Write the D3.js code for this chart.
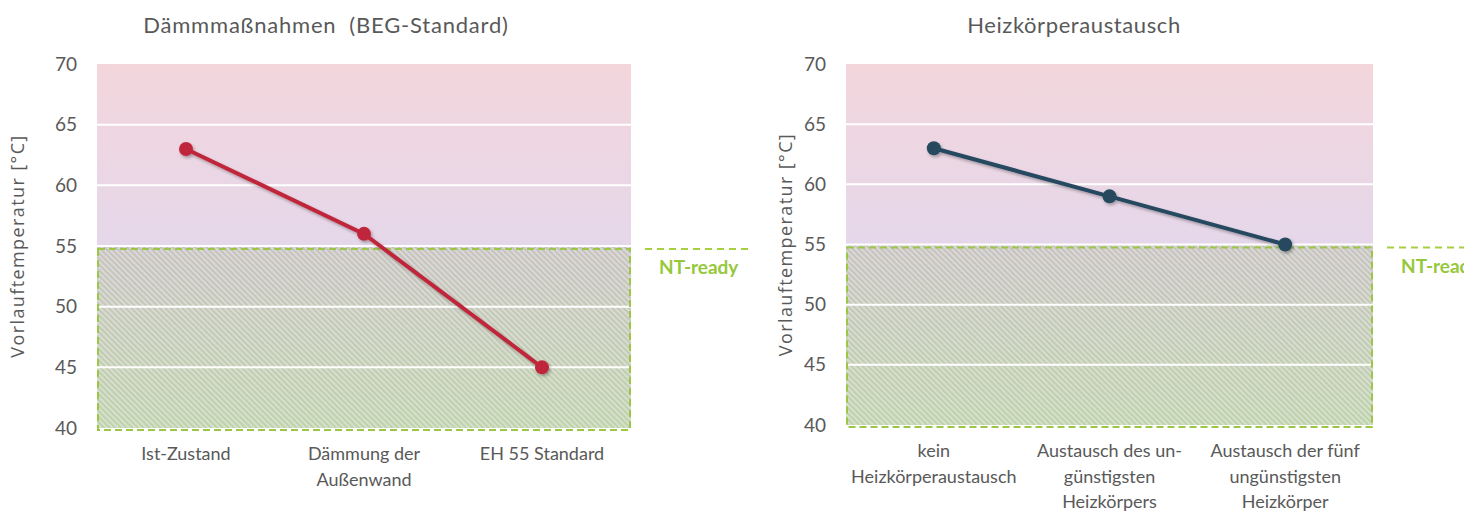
<!DOCTYPE html>
<html><head><meta charset="utf-8">
<script src="https://cdn.jsdelivr.net/npm/d3@7"></script>
<style>
html,body{margin:0;padding:0;background:#fff;}
svg{display:block;font-family:Lato, "Open Sans", sans-serif;}
</style></head>
<body>
<svg id="chart" width="1464" height="511"></svg>
<script>
// ---- data ----
const leftTitle = "Dämmmaßnahmen  (BEG-Standard)";
const leftCategories = [["Ist-Zustand"], ["Dämmung der", "Außenwand"], ["EH 55 Standard"]];
const leftValues = [63, 56, 45];

const rightTitle = "Heizkörperaustausch";
const rightCategories = [["kein", "Heizkörperaustausch"], ["Austausch des un-", "günstigsten", "Heizkörpers"], ["Austausch der fünf", "ungünstigsten", "Heizkörper"]];
const rightValues = [63, 59, 55];

const yTicks = [40, 45, 50, 55, 60, 65, 70];
const yDomain = [40, 70];
const ntReadyThreshold = 55;
const ntReadyLabel = "NT-ready";
const yAxisLabel = "Vorlauftemperatur [°C]";

const svg = d3.select("#chart");
const defs = svg.append("defs");

// background gradient (pink -> lavender)
const bg = defs.append("linearGradient").attr("id", "bgGrad").attr("x1", 0).attr("y1", 0).attr("x2", 0).attr("y2", 1);
bg.append("stop").attr("offset", "0%").attr("stop-color", "#f3d6dc");
bg.append("stop").attr("offset", "100%").attr("stop-color", "#e5d7ea");

// NT zone gradient (grey -> green)
const zg = defs.append("linearGradient").attr("id", "zoneGrad").attr("x1", 0).attr("y1", 0).attr("x2", 0).attr("y2", 1);
zg.append("stop").attr("offset", "0%").attr("stop-color", "#c6c3bd");
zg.append("stop").attr("offset", "100%").attr("stop-color", "#bcd4a6");

const pat = defs.append("pattern").attr("id", "hatch").attr("patternUnits", "userSpaceOnUse")
  .attr("width", 4).attr("height", 4).attr("patternTransform", "rotate(-45)");
pat.append("rect").attr("width", 4).attr("height", 4).attr("fill", "none");
pat.append("line").attr("x1", 1).attr("y1", 0).attr("x2", 1).attr("y2", 4)
  .attr("stroke", "#eee8f2").attr("stroke-opacity", 0.6).attr("stroke-width", 1.8);

const shadow = defs.append("filter").attr("id", "shadow").attr("x", "-20%").attr("y", "-20%").attr("width", "140%").attr("height", "140%");
shadow.append("feDropShadow").attr("dx", 1.5).attr("dy", 2).attr("stdDeviation", 1.5).attr("flood-color", "#000").attr("flood-opacity", 0.3);

function panel(cfg) {
  const g = svg.append("g");
  const x = d3.scaleBand().domain(d3.range(cfg.categories.length)).range([cfg.left, cfg.right]);
  const y = d3.scaleLinear().domain(yDomain).range([cfg.bottom, cfg.top]);

  // background
  g.append("rect").attr("x", cfg.left).attr("y", y(70)).attr("width", cfg.right - cfg.left)
    .attr("height", y(ntReadyThreshold) - y(70)).attr("fill", "url(#bgGrad)");
  // NT zone
  g.append("rect").attr("x", cfg.left).attr("y", y(ntReadyThreshold)).attr("width", cfg.right - cfg.left)
    .attr("height", y(40) - y(ntReadyThreshold)).attr("fill", "url(#zoneGrad)");
  g.append("rect").attr("x", cfg.left).attr("y", y(ntReadyThreshold)).attr("width", cfg.right - cfg.left)
    .attr("height", y(40) - y(ntReadyThreshold)).attr("fill", "url(#hatch)");

  // gridlines
  g.selectAll(".grid").data(yTicks.filter(t => t > 40 && t < 70)).join("line")
    .attr("x1", cfg.left).attr("x2", cfg.right).attr("y1", d => y(d)).attr("y2", d => y(d))
    .attr("stroke", "#ffffff").attr("stroke-width", 2);

  // dashed NT border
  g.append("rect").attr("x", cfg.left + 1).attr("y", y(ntReadyThreshold) + 3).attr("width", cfg.right - cfg.left - 2)
    .attr("height", y(40) - y(ntReadyThreshold) - 1)
    .attr("fill", "none").attr("stroke", "#9cc646").attr("stroke-width", 2).attr("stroke-dasharray", "7,4");
  g.append("line").attr("x1", cfg.right + 14).attr("x2", cfg.right + 120)
    .attr("y1", y(ntReadyThreshold) + 3).attr("y2", y(ntReadyThreshold) + 3)
    .attr("stroke", "#a6d040").attr("stroke-width", 2).attr("stroke-dasharray", "7,5");
  g.append("text").attr("x", cfg.right + 28).attr("y", y(ntReadyThreshold) + 28)
    .attr("fill", "#96c83c").attr("font-weight", "bold").attr("font-size", 19).text(ntReadyLabel);

  // y axis
  const yAxis = d3.axisLeft(y).tickValues(yTicks).tickSize(0).tickPadding(0);
  const ya = g.append("g").attr("transform", `translate(${cfg.left - 20},0)`).call(yAxis);
  ya.select(".domain").remove();
  ya.selectAll("text").attr("fill", "#595959").attr("font-size", 19).attr("font-family", "Lato, sans-serif");

  // x axis
  const xAxis = d3.axisBottom(x).tickSize(0).tickFormat("");
  const xa = g.append("g").attr("transform", `translate(0,${cfg.bottom})`).call(xAxis);
  xa.select(".domain").remove();
  xa.selectAll(".tick").each(function (d) {
    const t = d3.select(this).append("text").attr("fill", "#595959").attr("font-size", 18)
      .attr("font-family", "Lato, sans-serif").attr("text-anchor", "middle");
    cfg.categories[d].forEach((line, i) => {
      t.append("tspan").attr("x", 0).attr("y", 32 + i * 25.5).text(line);
    });
  });

  // y label
  g.append("text").attr("transform", `translate(${cfg.ylabelX},${(y(40) + y(70)) / 2}) rotate(-90)`)
    .attr("text-anchor", "middle").attr("fill", "#595959").attr("font-size", 18)
    .attr("letter-spacing", 1.4).style("font-family", "'Open Sans', sans-serif").text(yAxisLabel);

  // title
  g.append("text").attr("x", cfg.titleX).attr("y", 33).attr("text-anchor", "middle")
    .attr("fill", "#595959").attr("font-size", 22).attr("letter-spacing", cfg.titleSpacing)
    .style("white-space", "pre").text(cfg.title);

  // line + markers
  const cx = i => x(i) + x.bandwidth() / 2;
  const line = d3.line().x((d, i) => cx(i)).y(d => y(d));
  const lg = g.append("g").attr("filter", "url(#shadow)");
  lg.append("path").datum(cfg.values).attr("d", line).attr("fill", "none")
    .attr("stroke", cfg.color).attr("stroke-width", 4);
  lg.selectAll("circle").data(cfg.values).join("circle")
    .attr("cx", (d, i) => cx(i)).attr("cy", d => y(d)).attr("r", 7).attr("fill", cfg.color);
}

panel({ left: 97, right: 631, top: 64, bottom: 428, categories: leftCategories, values: leftValues,
  color: "#c0283a", title: leftTitle, titleX: 326, titleSpacing: 0.8, ylabelX: 24 });
panel({ left: 846, right: 1373, top: 64, bottom: 425, categories: rightCategories, values: rightValues,
  color: "#254861", title: rightTitle, titleX: 1074, titleSpacing: 0.6, ylabelX: 792 });
</script>
</body></html>
